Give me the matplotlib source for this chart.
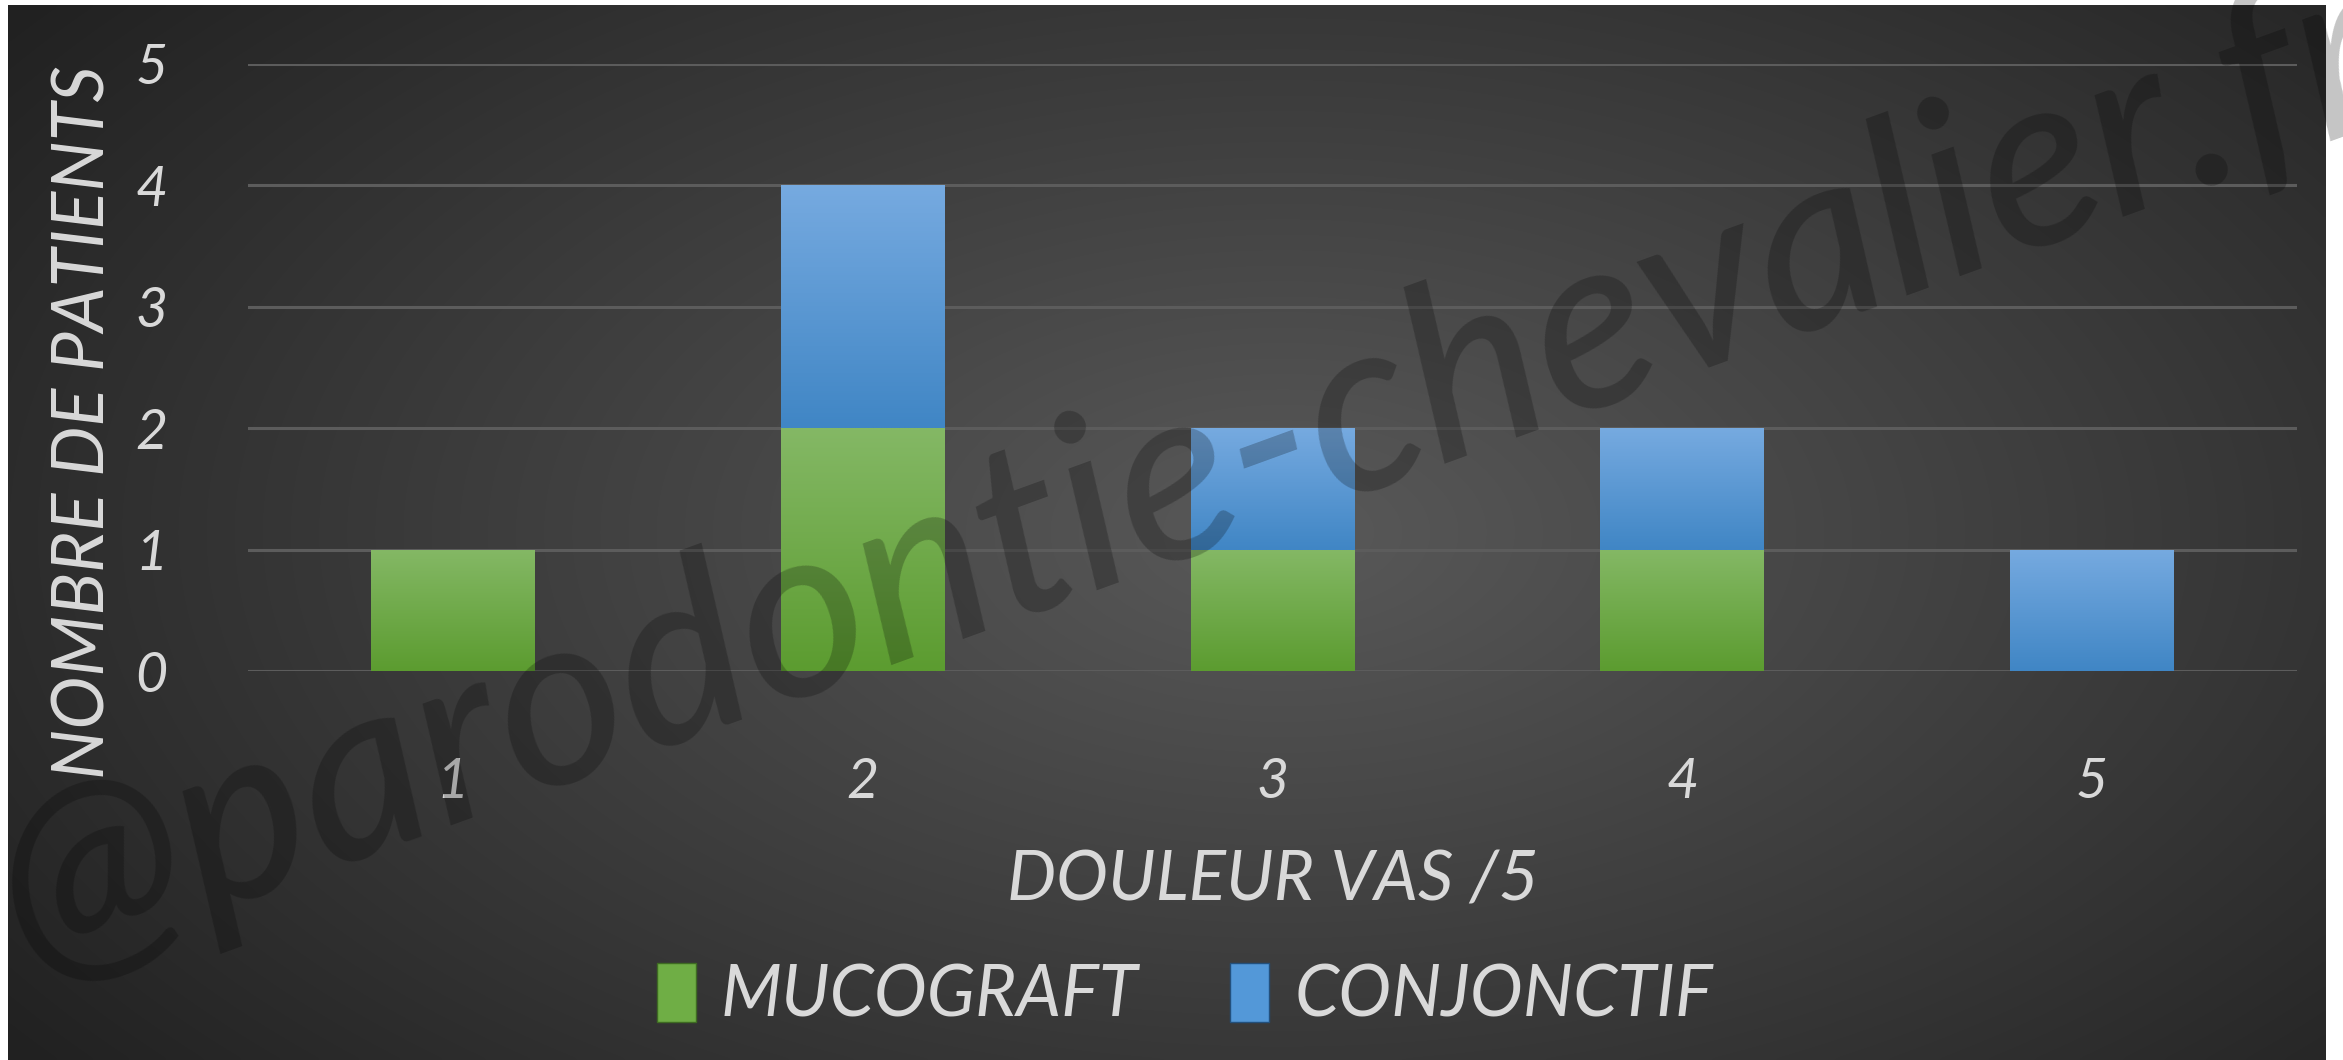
import numpy as np
import matplotlib
matplotlib.use("Agg")
import matplotlib.pyplot as plt
from matplotlib.patches import Patch
import matplotlib.patheffects as pe

# data
douleur = [1, 2, 3, 4, 5]
mucograft = [1, 2, 1, 1, 0]
conjonctif = [0, 2, 1, 1, 1]
yticks = [0, 1, 2, 3, 4, 5]

plt.rcParams['font.family'] = ['Lato', 'DejaVu Sans']
txt_col = '#d9d9d9'

fig = plt.figure(figsize=(23.43, 10.60), dpi=100)
fig.patch.set_facecolor('white')

# dark radial background (chart area with thin white margin)
bg = fig.add_axes([8 / 2343, 0, (2326 - 8) / 2343, 1 - 5 / 1060])
bg.set_axis_off()
yy, xx = np.mgrid[0:1:300j, 0:1:600j]
r = np.sqrt(((xx - 0.55) / 0.62) ** 2 + ((yy - 0.5) / 0.75) ** 2)
shade = np.clip(0.35 - 0.2 * r, 0.13, 1)
bg.imshow(np.dstack([shade] * 3), aspect='auto', extent=[0, 1, 0, 1], interpolation='bicubic')

ax = fig.add_axes([248 / 2343, 1 - 671 / 1060, (2297 - 248) / 2343, (671 - 64) / 1060])
ax.patch.set_alpha(0)
for s in ax.spines.values():
    s.set_visible(False)
ax.set_yticks(yticks)
ax.set_xticks(douleur)
ax.grid(axis='y', color='#5c5c5c', lw=2.2, zorder=0)
ax.tick_params(length=0, labelcolor=txt_col, labelsize=40)
for lab in ax.get_xticklabels() + ax.get_yticklabels():
    lab.set_style('italic')
ax.tick_params(axis='y', pad=58)
ax.tick_params(axis='x', pad=62)

shadow = [pe.SimplePatchShadow(offset=(0, 0), shadow_rgbFace='black', alpha=0.35), pe.Normal()]
b1 = ax.bar(douleur, mucograft, width=0.4, color='#6fae45', zorder=3, path_effects=shadow)
b2 = ax.bar(douleur, conjonctif, width=0.4, bottom=mucograft, color='#5398d8', zorder=3, path_effects=shadow)

# vertical gradient fill clipped to each bar
def grad_fill(bars, top, bot):
    top = np.array(matplotlib.colors.to_rgb(top))
    bot = np.array(matplotlib.colors.to_rgb(bot))
    t = np.linspace(0, 1, 64)[:, None]
    img = (top * (1 - t) + bot * t)[:, None, :]
    for b in bars:
        h = b.get_height()
        if h <= 0:
            continue
        x0, y0 = b.get_x(), b.get_y()
        im = ax.imshow(img, aspect='auto', extent=[x0, x0 + b.get_width(), y0, y0 + h],
                       zorder=4, interpolation='bilinear')
        im.set_clip_path(b)

grad_fill(b1, '#84b865', '#5c9c30')
grad_fill(b2, '#76aae0', '#4086c5')
ax.set_xlim(0.5, 5.5)
ax.set_ylim(0, 5)

ax.set_xlabel('DOULEUR VAS /5', color=txt_col, fontsize=50, style='italic', labelpad=30)
fig.text(84 / 2343, 1 - 422 / 1060, 'NOMBRE DE PATIENTS', color=txt_col, fontsize=51,
         style='italic', rotation=90, ha='center', va='center')

handles = [Patch(facecolor='#6fae45', edgecolor='#3e6b22', label='MUCOGRAFT'),
           Patch(facecolor='#5398d8', edgecolor='#23507c', label='CONJONCTIF')]
leg = fig.legend(handles=handles, loc='center', bbox_to_anchor=(1185 / 2343, 1 - 996 / 1060),
                 ncol=2, frameon=False, prop={'size': 51, 'style': 'italic'},
                 handlelength=0.55, handleheight=0.9, handletextpad=0.35, columnspacing=1.3)
for t in leg.get_texts():
    t.set_color(txt_col)

# watermark (runs off both edges, as in the original)
fig.text(1192 / 2343, 1 - 478 / 1060, '@parodontie-chevalier.fr', fontsize=176, style='italic',
         weight='medium', color='black', alpha=0.23, rotation=20, ha='center', va='center', zorder=10)

fig.savefig('out.png', dpi=100, facecolor='white')
